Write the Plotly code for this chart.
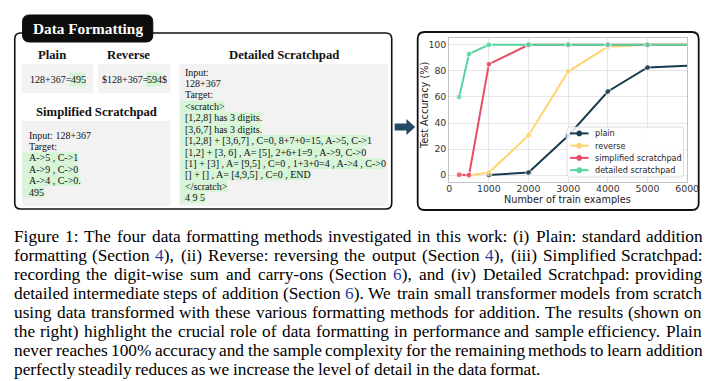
import plotly.graph_objects as go

W, H = 720, 381

# ---------------- data ----------------
train_examples = [250, 500, 1000, 2000, 3000, 4000, 5000, 6000]
acc_plain = [None, None, 0.2, 2.0, 30.3, 64.2, 82.6, 84.0]
acc_reverse = [0.0, 0.0, 2.0, 30.5, 79.5, 98.5, 100.0, 100.0]
acc_simplified = [0.3, 0.0, 85.2, 100.0, 100.0, 100.0, 100.0, 100.0]
acc_detailed = [59.9, 93.0, 100.0, 100.0, 100.0, 100.0, 100.0, 100.0]
series_names = ["plain", "reverse", "simplified scratchpad", "detailed scratchpad"]
series_values = [acc_plain, acc_reverse, acc_simplified, acc_detailed]
series_colors = ["#183b4e", "#ffd36e", "#e94c69", "#55d49d"]
x_ticks = [0, 1000, 2000, 3000, 4000, 5000, 6000]
y_ticks = [0, 20, 40, 60, 80, 100]

plain_example = ["128+367=", "495"]
reverse_example = ["$128+367=", "594", "$"]
simplified_lines = ["Input: 128+367", "Target:", "A->5 , C->1", "A->9 , C->0",
                    "A->4 , C->0.", "495"]
detailed_lines = ["Input:", "128+367", "Target:", "<scratch>",
                  "[1,2,8] has 3 digits.", "[3,6,7] has 3 digits.",
                  "[1,2,8] + [3,6,7] , C=0, 8+7+0=15, A->5, C->1",
                  "[1,2] + [3, 6] , A= [5], 2+6+1=9 , A->9, C->0",
                  "[1] + [3] , A= [9,5] , C=0 , 1+3+0=4 , A->4 , C->0",
                  "[] + [] , A= [4,9,5] , C=0 , END",
                  "</scratch>", "4 9 5"]
caption_lines = [
    "Figure 1: The four data formatting methods investigated in this work: (i) Plain: standard addition",
    "formatting (Section {4}), (ii) Reverse: reversing the output (Section {4}), (iii) Simplified Scratchpad:",
    "recording the digit-wise sum and carry-ons (Section {6}), and (iv) Detailed Scratchpad: providing",
    "detailed intermediate steps of addition (Section {6}). We train small transformer models from scratch",
    "using data transformed with these various formatting methods for addition. The results (shown on",
    "the right) highlight the crucial role of data formatting in performance and sample efficiency. Plain",
    "never reaches 100% accuracy and the sample complexity for the remaining methods to learn addition",
    "perfectly steadily reduces as we increase the level of detail in the data format.",
]

# ---------------- helpers ----------------
TIMES = {' ': 250, '!': 333, '"': 408, '#': 500, '$': 500, '%': 833, '&': 778, "'": 180,
         '(': 333, ')': 333, '*': 500, '+': 564, ',': 250, '-': 333, '.': 250, '/': 278,
         ':': 278, ';': 278, '<': 564, '=': 564, '>': 564, '?': 444, '@': 921,
         'A': 722, 'B': 667, 'C': 667, 'D': 722, 'E': 611, 'F': 556, 'G': 722, 'H': 722,
         'I': 333, 'J': 389, 'K': 722, 'L': 611, 'M': 889, 'N': 722, 'O': 722, 'P': 556,
         'Q': 722, 'R': 667, 'S': 556, 'T': 611, 'U': 722, 'V': 722, 'W': 944, 'X': 722,
         'Y': 722, 'Z': 611, '[': 333, ']': 333, '_': 500,
         'a': 444, 'b': 500, 'c': 444, 'd': 500, 'e': 444, 'f': 333, 'g': 500, 'h': 500,
         'i': 278, 'j': 278, 'k': 500, 'l': 278, 'm': 778, 'n': 500, 'o': 500, 'p': 500,
         'q': 500, 'r': 333, 's': 389, 't': 278, 'u': 500, 'v': 500, 'w': 722, 'x': 500,
         'y': 500, 'z': 444}
for d in "0123456789":
    TIMES[d] = 500


def tw(s, size):
    return sum(TIMES.get(c, 500) for c in s) / 1000.0 * size


def px(x):
    return x / W


def py(y):
    return 1 - y / H


def esc(s):
    return s.replace("&", "&amp;").replace("<", "&lt;").replace(">", "&gt;")


def rrect_path(x0, y0, x1, y1, r):
    pts = [("M", [(x0 + r, y0)]), ("L", [(x1 - r, y0)]), ("Q", [(x1, y0), (x1, y0 + r)]),
           ("L", [(x1, y1 - r)]), ("Q", [(x1, y1), (x1 - r, y1)]), ("L", [(x0 + r, y1)]),
           ("Q", [(x0, y1), (x0, y1 - r)]), ("L", [(x0, y0 + r)]), ("Q", [(x0, y0), (x0 + r, y0)])]
    out = []
    for cmd, ps in pts:
        out.append(cmd + " " + " ".join(f"{px(a):.5f},{py(b):.5f}" for a, b in ps))
    return " ".join(out) + " Z"


shapes = []
annotations = []


def add_rrect(x0, y0, x1, y1, r, fill=None, line=None, lw=0, layer="above"):
    shapes.append(dict(type="path", xref="paper", yref="paper", path=rrect_path(x0, y0, x1, y1, r),
                       fillcolor=fill if fill else "rgba(0,0,0,0)",
                       line=dict(color=line if line else "rgba(0,0,0,0)", width=lw), layer=layer))


def add_rect(x0, y0, x1, y1, fill):
    shapes.append(dict(type="rect", xref="paper", yref="paper", x0=px(x0), x1=px(x1),
                       y0=py(y1), y1=py(y0), fillcolor=fill, line=dict(width=0), layer="above"))


def add_text(x, y, text, size, color="#111111", family="Liberation Serif", xanchor="left",
             angle=0):
    annotations.append(dict(x=px(x), y=py(y), xref="paper", yref="paper", text=text,
                            showarrow=False, xanchor=xanchor, yanchor="middle", borderpad=0,
                            textangle=angle, font=dict(size=size, color=color, family=family)))


SERIF = "Liberation Serif"
GRAY_BG = "#f2f2f2"
GREEN_HL = "#d6f4d6"
FS = 10

# ---------------- left panel ----------------
add_rrect(12, 33, 397, 209, 6, line="#111111", lw=1.6)
add_rrect(20, 15, 153, 42, 7, fill="#0d0d0d", line="#0d0d0d", lw=1)
add_text(86.5, 28.8, "<b>Data Formatting</b>", 15.3, color="#ffffff", family=SERIF, xanchor="center")

add_text(50, 55, "<b>Plain</b>", 12.7, family=SERIF, xanchor="center")
add_text(128.5, 55, "<b>Reverse</b>", 12.7, family=SERIF, xanchor="center")
add_text(287, 55, "<b>Detailed Scratchpad</b>", 12.7, family=SERIF, xanchor="center")
add_text(95, 112, "<b>Simplified Scratchpad</b>", 12.7, family=SERIF, xanchor="center")

# boxes
add_rect(19, 64, 92, 93, GRAY_BG)
add_rect(97, 64, 171, 93, GRAY_BG)
add_rect(19, 121, 171, 206, GRAY_BG)
add_rect(180, 64, 393, 206, GRAY_BG)

# plain example
x0 = 27
w0 = tw(plain_example[0], FS)
add_rect(x0 + w0 - 0.5, 72.5, x0 + w0 + tw(plain_example[1], FS) + 1.5, 86.5, GREEN_HL)
add_text(x0, 79.3, esc(plain_example[0]), FS, family=SERIF)
add_text(x0 + w0, 79.3, esc(plain_example[1]), FS, family=SERIF)

# reverse example
x0 = 100
w0 = tw(reverse_example[0], FS)
w1 = tw(reverse_example[1], FS)
add_rect(x0 + w0 - 0.5, 72.5, x0 + w0 + w1 + 0.5, 86.5, GREEN_HL)
add_text(x0, 79.3, esc(reverse_example[0]), FS, family=SERIF)
add_text(x0 + w0, 79.3, esc(reverse_example[1]), FS, family=SERIF)
add_text(x0 + w0 + w1, 79.3, esc(reverse_example[2]), FS, family=SERIF)

# simplified
for i, s in enumerate(simplified_lines):
    yc = 135 + i * 11.4
    if i >= 2:
        add_rect(20, yc - 5.5, 26 + tw(s, FS) + 1.5, yc + 5.5, GREEN_HL)
    add_text(26, yc, esc(s), FS, family=SERIF)

# detailed
for i, s in enumerate(detailed_lines):
    yc = 72 + i * 11.43
    if i >= 3:
        add_rect(181, yc - 5.5, 185 + tw(s, FS) + 1.5, yc + 5.5, GREEN_HL)
    add_text(185, yc, esc(s), FS, family=SERIF)

# arrow
arrow_pts = [(400, 123.5), (412, 123.5), (412, 119), (421, 127), (412, 135), (412, 130.5), (400, 130.5)]
shapes.append(dict(type="path", xref="paper", yref="paper",
                   path="M " + " L ".join(f"{px(a):.5f},{py(b):.5f}" for a, b in arrow_pts) + " Z",
                   fillcolor="#234b64", line=dict(width=0), layer="above"))

# ---------------- right panel ----------------
add_rrect(423.5, 32, 710.5, 210, 7, line="#111111", lw=1.8, layer="below")

fig = go.Figure()
for name, vals, col in zip(series_names, series_values, series_colors):
    sizes = [6] * (len(train_examples) - 1) + [0]
    fig.add_trace(go.Scatter(x=train_examples, y=vals, name=name, mode="lines+markers",
                             line=dict(color=col, width=2), marker=dict(color=col, size=sizes),
                             showlegend=False, connectgaps=False))

SANS = "DejaVu Sans"
# axis titles
add_text(577, 199.5, "Number of train examples", 9.7, color="#222222", family=SANS, xanchor="center")
add_text(430, 106, "Test Accuracy (%)", 9.7, color="#222222", family=SANS, xanchor="center", angle=-90)

# manual legend
add_rrect(576, 127, 695, 177, 2.5, fill="rgba(255,255,255,0.85)", line="#d4d4d4", lw=0.8)
for i, (name, col) in enumerate(zip(series_names, series_colors)):
    yc = 133.4 + i * 12.25
    shapes.append(dict(type="line", xref="paper", yref="paper", x0=px(579), x1=px(598),
                       y0=py(yc), y1=py(yc), line=dict(color=col, width=2), layer="above"))
    shapes.append(dict(type="circle", xref="paper", yref="paper", x0=px(585.7), x1=px(591.3),
                       y0=py(yc + 2.8), y1=py(yc - 2.8), fillcolor=col, line=dict(width=0),
                       layer="above"))
    add_text(604, yc, name, 8.1, color="#222222", family=SANS)

# ---------------- caption ----------------
CAP = 17.3
LEFT, RIGHT = 10, 712
BLUE = "#2a3c9e"
for li, line in enumerate(caption_lines):
    yc = 236.7 + li * 18.94
    words = line.split(" ")
    plain_words = [w.replace("{", "").replace("}", "") for w in words]
    widths = [tw(w, CAP) for w in plain_words]
    if li < len(caption_lines) - 1:
        gap = (RIGHT - LEFT - sum(widths)) / (len(words) - 1)
    else:
        gap = tw(" ", CAP)
    x = LEFT
    for w, pw, wd in zip(words, plain_words, widths):
        txt = esc(w).replace("{", f"<span style='color:{BLUE}'>").replace("}", "</span>")
        add_text(x, yc, txt, CAP, color="#000000", family=SERIF)
        x += wd + gap

fig.update_layout(
    width=W, height=H,
    margin=dict(l=0, r=0, t=0, b=0),
    paper_bgcolor="white", plot_bgcolor="white",
    shapes=shapes, annotations=annotations,
    xaxis=dict(domain=[455.7 / W, 698.7 / W], range=[0, 6000], tickvals=x_ticks,
               showgrid=True, gridcolor="#e6e6e6", gridwidth=1, zeroline=False,
               showline=True, linecolor="#c4c4c4", linewidth=1, mirror=True, ticks="",
               ticklabelstandoff=-2,
               tickfont=dict(size=9.4, color="#333333", family=SANS)),
    yaxis=dict(domain=[1 - 181.7 / H, 1 - 38.3 / H], range=[-5, 105], tickvals=y_ticks,
               showgrid=True, gridcolor="#e6e6e6", gridwidth=1, zeroline=False,
               showline=True, linecolor="#c4c4c4", linewidth=1, mirror=True, ticks="",
               tickfont=dict(size=9.4, color="#333333", family=SANS)),
    showlegend=False,
)

fig.write_html("out.html", config={"displayModeBar": False},
               post_script="document.body.style.margin='0';document.body.style.overflow='hidden';")
